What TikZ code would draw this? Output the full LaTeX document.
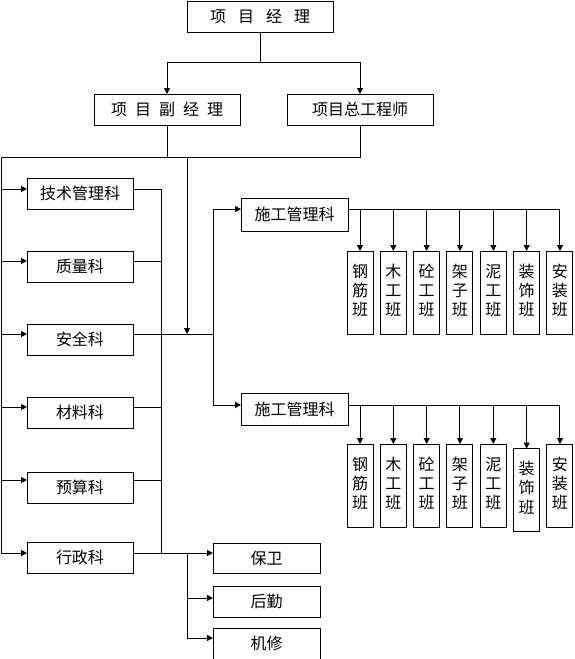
\documentclass[tikz,border=0pt]{standalone}
\usepackage{fontspec}
\newfontfamily\cjk{Noto Sans CJK SC}
\usetikzlibrary{arrows.meta}
\newcommand{\vstack}[1]{\raisebox{3pt}{\begin{tabular}{@{}c@{}}#1\end{tabular}}}
\begin{document}
\begin{tikzpicture}[x=1pt,y=-1pt,line width=1pt,
  box/.style={draw, inner sep=0pt, outer sep=0pt, font=\cjk\fontsize{16}{19}\selectfont},
  wbox/.style={box, minimum width=146pt, minimum height=31pt},
  lbox/.style={box, minimum width=106pt, minimum height=31pt},
  sbox/.style={box, minimum width=107pt, minimum height=32pt},
  tbox/.style={box, minimum width=26pt, minimum height=83pt},
  arr/.style={-{Triangle[length=6pt,width=6pt]}}
]
\useasboundingbox (0,0) rectangle (574,659);

% top levels
\node[box, minimum width=146pt, minimum height=31pt] (pm) at (260,16.5) {项\hspace{12pt}目\hspace{12pt}经\hspace{12pt}理};
\node[wbox] (dpm) at (167,109.5) {项\hspace{8pt}目\hspace{8pt}副\hspace{8pt}经\hspace{8pt}理};
\node[wbox] (ce) at (360,109.5) {项目总工程师};

\coordinate (j1) at (260,62);
\draw (pm.south) -- (j1);
\draw[arr] (j1) -| (dpm.north);
\draw[arr] (j1) -| (ce.north);

% left departments
\node[lbox] (js) at (80,193.5) {技术管理科};
\node[lbox] (zl) at (80,266.5) {质量科};
\node[lbox] (aq) at (80,339.5) {安全科};
\node[lbox] (cl) at (80,412.5) {材料科};
\node[lbox] (ys) at (80,487.5) {预算科};
\node[lbox] (xz) at (80,557.5) {行政科};

\coordinate (j2) at (1,157);
\coordinate (j3) at (187,157);
\draw (dpm.south) |- (j2);
\draw (ce.south) |- (j2);

\foreach \n/\y in {js/189,zl/261,aq/334,cl/407,ys/480,xz/553}{
  \coordinate (\n L) at (27,\y);
  \coordinate (\n R) at (133,\y);
  \draw[arr] (j2) |- (\n L);
}
\coordinate (rbtop) at (161,189);
\coordinate (rbbot) at (161,553);
\draw (jsR) -- (rbtop) -- (rbbot);
\foreach \n in {zl,aq,cl,ys,xz}{
  \draw (\n R) -- (\n R -| rbtop);
}

% safety row to construction
\coordinate (aqJ) at (187,334);
\coordinate (m) at (213,334);
\draw[arr] (j3) -- (aqJ);
\draw (aqR) -- (m);

\node[sbox, minimum height=33pt] (sg1) at (294.5,214.5) {施工管理科};
\node[sbox] (sg2) at (294.5,409) {施工管理科};
\coordinate (sg1L) at (241,209);
\coordinate (sg2L) at (241,405);
\coordinate (sg1R) at (348,209);
\coordinate (sg2R) at (348,405);
\draw[arr] (m) |- (sg1L);
\draw[arr] (m) |- (sg2L);

% teams group 1
\foreach \i/\t in {1/钢\\筋\\班,2/木\\工\\班,3/砼\\工\\班,4/架\\子\\班,5/泥\\工\\班,6/装\\饰\\班,7/安\\装\\班}{
  \node[tbox] (a\i) at ({360+33.33*(\i-1)},292.5) {\vstack{\t}};
  \draw[arr] (sg1R) -| (a\i.north);
}
% teams group 2
\foreach \i/\t/\yy in {1/钢\\筋\\班/485.5,2/木\\工\\班/485.5,3/砼\\工\\班/485.5,4/架\\子\\班/485.5,5/泥\\工\\班/485.5,6/装\\饰\\班/490,7/安\\装\\班/485.5}{
  \node[tbox] (b\i) at ({360+33.33*(\i-1)},\yy) {\vstack{\t}};
  \draw[arr] (sg2R) -| (b\i.north);
}

% admin subunits
\node[sbox, minimum height=30pt] (bw) at (266.5,558) {保卫};
\node[sbox, minimum height=31pt] (hq) at (266.5,601.5) {后勤};
\node[sbox, minimum height=31pt] (jx) at (266.5,643.5) {机修};
\coordinate (bwL) at (213,553);
\coordinate (hqL) at (213,598);
\coordinate (jxL) at (213,638);
\coordinate (j4) at (187,553);
\draw[arr] (xzR) -- (bwL);
\draw[arr] (j4) |- (hqL);
\draw[arr] (j4) |- (jxL);
\end{tikzpicture}
\end{document}
